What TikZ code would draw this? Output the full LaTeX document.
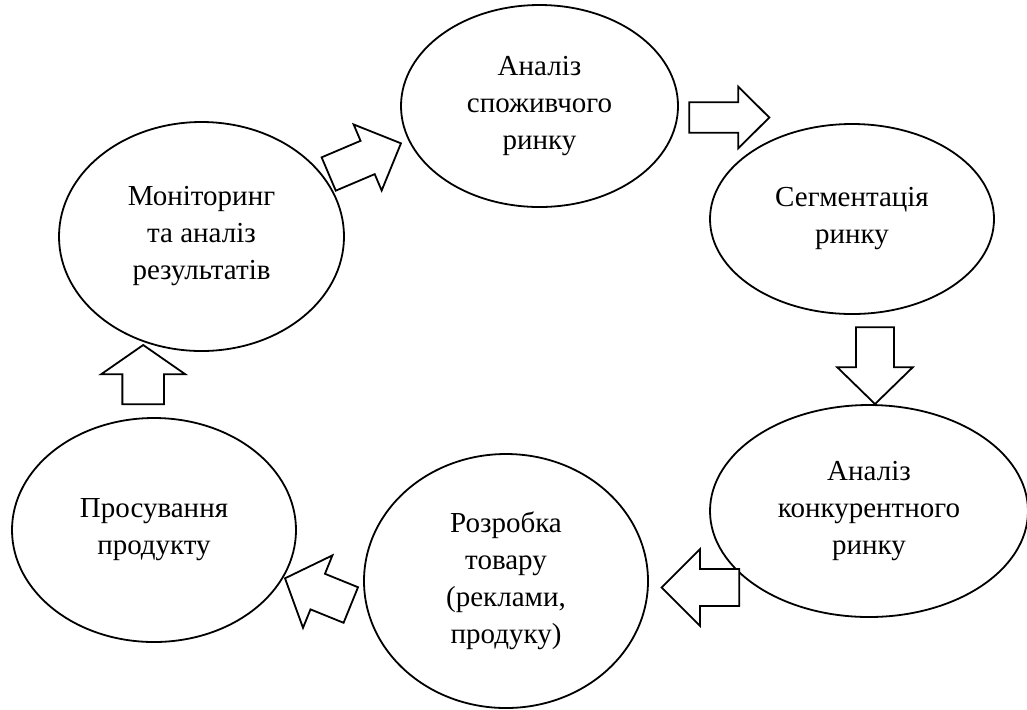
\documentclass[tikz,border=0pt]{standalone}
\usepackage{fontspec}
\setmainfont{Liberation Serif}
\usetikzlibrary{shapes.geometric}
\tikzset{
  stage/.style={draw, ellipse, line width=0.9pt, inner sep=2pt, align=center,
    font=\fontsize{14.5}{18.5}\selectfont},
  barrow/.style={draw, line width=0.9pt, line join=miter, fill=white}
}
% block arrow: (tail x,tail y)(angle:length:shaft:head:head length)
\def\blockarrow(#1,#2)(#3:#4:#5:#6:#7){\draw[barrow, shift={(#1,#2)}, rotate=#3] (0,-#5/2) -- (#4-#7,-#5/2) -- (#4-#7,-#6/2) -- (#4,0) -- (#4-#7,#6/2) -- (#4-#7,#5/2) -- (0,#5/2) -- cycle;}

\begin{document}
\begin{tikzpicture}[x=0.5pt, y=-0.5pt]
  %%%%% START %%%%%
  \useasboundingbox (0,0) rectangle (1027,709);

  \node[stage, minimum width=138.5pt, minimum height=101pt] (spozh) at (539.5,106) {Аналіз\\споживчого\\ринку};
  \node[stage, minimum width=142pt, minimum height=95pt] (segm) at (852,219) {Сегментація\\ринку};
  \node[stage, minimum width=159pt, minimum height=106pt] (konk) at (869,511) {Аналіз\\конкурентного\\ринку};
  \node[stage, minimum width=142pt, minimum height=127pt] (rozr) at (506,581) {Розробка\\товару\\(реклами,\\продуку)};
  \node[stage, minimum width=142pt, minimum height=112pt] (prosuv) at (154,530) {Просування\\продукту};
  \node[stage, minimum width=142.5pt, minimum height=114.5pt] (monit) at (201.5,236.5) {Моніторинг\\та аналіз\\результатів};

  \blockarrow(328.7,174)(23:78.5:36.2:71.8:36.2)
  \blockarrow(689.3,117.5)(0:80:30.4:61.6:31)
  \blockarrow(875,327.3)(-90:76.7:38:75.4:36.7)
  \blockarrow(739.3,587.5)(180:77.6:37:76.7:38.3)
  \blockarrow(350.8,605)(157.9:71:38.4:78.2:35.3)
  \blockarrow(143.2,404.3)(90:59.3:41.7:84.3:29.3)

  %%%%% END %%%%%
\end{tikzpicture}
\end{document}
